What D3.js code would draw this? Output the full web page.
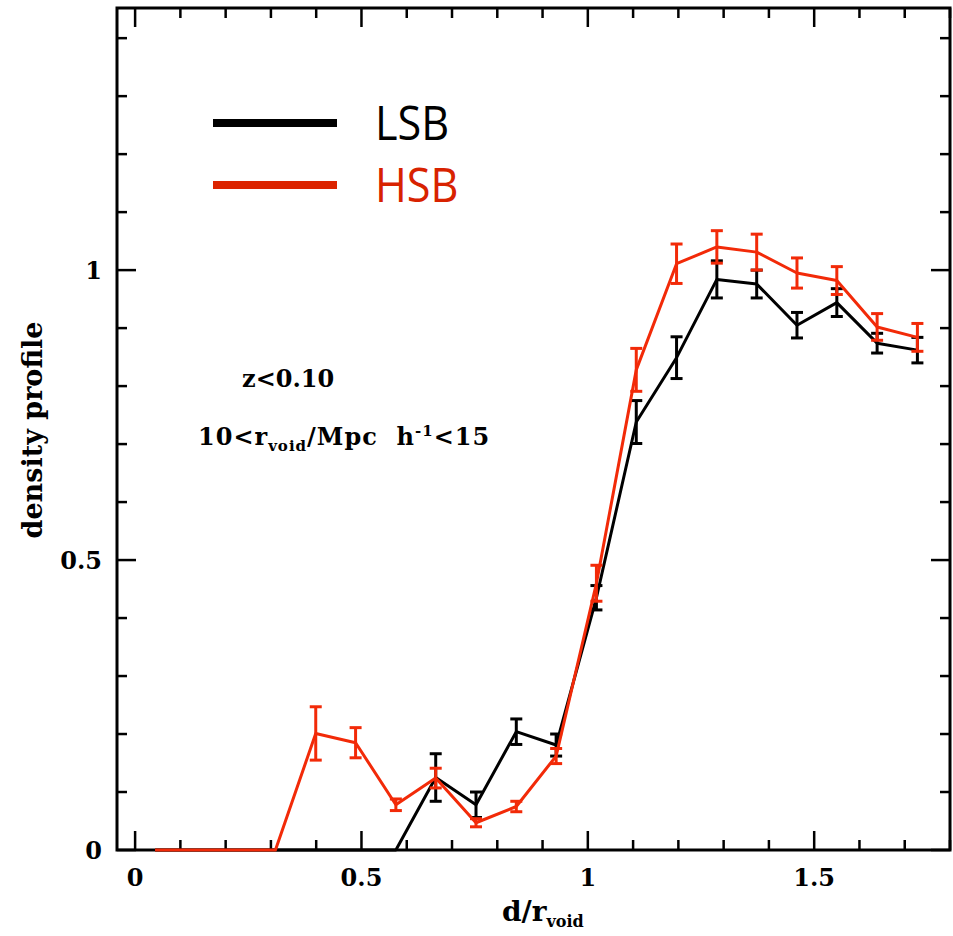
<!DOCTYPE html>
<html>
<head>
<meta charset="utf-8">
<script src="https://cdn.jsdelivr.net/npm/d3@7"></script>
<style>
  html, body { margin: 0; padding: 0; background: #fff; }
  svg text { font-family: "DejaVu Serif", serif; font-weight: bold; white-space: pre; }
</style>
</head>
<body>
<svg id="chart" width="953" height="936"></svg>
<script>
// Bin centres (d / r_void)
const binCenters = [0.044, 0.133, 0.221, 0.310, 0.399, 0.487, 0.576, 0.664, 0.753, 0.842,
                    0.930, 1.019, 1.107, 1.196, 1.285, 1.373, 1.462, 1.550, 1.639, 1.728];

// Low surface brightness galaxies
const lsbValues = [0, 0, 0, 0, 0, 0, 0, 0.125, 0.078, 0.204,
                   0.181, 0.435, 0.738, 0.849, 0.984, 0.976, 0.905, 0.944, 0.874, 0.862];
const lsbErrors = [0, 0, 0, 0, 0, 0, 0, 0.041, 0.022, 0.022,
                   0.019, 0.021, 0.037, 0.036, 0.032, 0.024, 0.022, 0.024, 0.017, 0.022];

// High surface brightness galaxies
const hsbValues = [0, 0, 0, 0, 0.201, 0.185, 0.078, 0.124, 0.047, 0.075,
                   0.162, 0.460, 0.828, 1.011, 1.040, 1.031, 0.995, 0.982, 0.902, 0.884];
const hsbErrors = [0, 0, 0, 0, 0.046, 0.026, 0.010, 0.017, 0.007, 0.009,
                   0.013, 0.031, 0.037, 0.034, 0.028, 0.031, 0.026, 0.024, 0.023, 0.024];

const xMajorTicks = [0, 0.5, 1, 1.5];
const xTickLabels = ["0", "0.5", "1", "1.5"];
const yMajorTicks = [0, 0.5, 1];
const yTickLabels = ["0", "0.5", "1"];

const seriesNames = ["LSB", "HSB"];
const seriesColors = ["#000000", "#f22a08"];
const legendLineColors = ["#000000", "#dc2400"];
const legendTextColors = ["#000000", "#d82200"];

const svg = d3.select("#chart");

const x = d3.scaleLinear().domain([-0.04, 1.8]).range([117, 950]);
const y = d3.scaleLinear().domain([0, 1.452]).range([850, 8]);

const [x0, x1] = x.range();
const [y0, y1] = y.range();

const xMinor = d3.range(0, 1.8001, 0.1).map(v => +v.toFixed(2));
const yMinor = d3.range(0, 1.4501, 0.1).map(v => +v.toFixed(2));
const isMajor = v => Math.abs(v * 2 - Math.round(v * 2)) < 1e-6;

const MAJ = 19, MIN = 10;

// Frame
svg.append("rect").attr("x", x0).attr("y", y1).attr("width", x1 - x0).attr("height", y0 - y1)
  .attr("fill", "none").attr("stroke", "#000").attr("stroke-width", 3);

// Inward ticks on all four sides
const ticks = svg.append("g").attr("stroke", "#000").attr("stroke-width", 2.5);
xMinor.forEach(v => {
  const len = isMajor(v) ? MAJ : MIN;
  ticks.append("line").attr("x1", x(v)).attr("x2", x(v)).attr("y1", y0).attr("y2", y0 - len);
  ticks.append("line").attr("x1", x(v)).attr("x2", x(v)).attr("y1", y1).attr("y2", y1 + len);
});
yMinor.forEach(v => {
  const len = isMajor(v) ? MAJ : MIN;
  ticks.append("line").attr("y1", y(v)).attr("y2", y(v)).attr("x1", x0).attr("x2", x0 + len);
  ticks.append("line").attr("y1", y(v)).attr("y2", y(v)).attr("x1", x1).attr("x2", x1 - len);
});

// Tick labels
svg.append("g").selectAll("text").data(xMajorTicks).join("text")
  .attr("x", d => x(d)).attr("y", 886)
  .attr("text-anchor", "middle").attr("font-size", 24)
  .text((d, i) => xTickLabels[i]);

svg.append("g").selectAll("text").data(yMajorTicks).join("text")
  .attr("x", 102).attr("y", d => y(d) + 9)
  .attr("text-anchor", "end").attr("font-size", 24)
  .text((d, i) => yTickLabels[i]);

// Axis titles
const xt = svg.append("text").attr("x", 502).attr("y", 921).attr("font-size", 28);
xt.append("tspan").text("d/r");
xt.append("tspan").attr("font-size", 16).attr("dy", 6).text("void");

svg.append("text")
  .attr("transform", "translate(42,430) rotate(-90)")
  .attr("text-anchor", "middle").attr("font-size", 27)
  .text("density profile");

// Series lines and error bars
const line = d3.line().x(d => x(d.x)).y(d => y(d.v));
const series = [
  { values: lsbValues, errors: lsbErrors },
  { values: hsbValues, errors: hsbErrors }
];

series.forEach((s, k) => {
  const pts = binCenters.map((c, i) => ({ x: c, v: s.values[i], e: s.errors[i] }));
  const g = svg.append("g").attr("stroke", seriesColors[k]).attr("fill", "none");
  g.append("path").attr("d", line(pts)).attr("stroke-width", 3).attr("stroke-linejoin", "round");
  const cap = 6;
  pts.filter(p => p.e > 0).forEach(p => {
    g.append("line").attr("x1", x(p.x)).attr("x2", x(p.x))
      .attr("y1", y(p.v - p.e)).attr("y2", y(p.v + p.e)).attr("stroke-width", 3);
    [p.v - p.e, p.v + p.e].forEach(t => {
      g.append("line").attr("x1", x(p.x) - cap).attr("x2", x(p.x) + cap)
        .attr("y1", y(t)).attr("y2", y(t)).attr("stroke-width", 3);
    });
  });
});

// Annotations
svg.append("text").attr("x", 242).attr("y", 387).attr("font-size", 24).text("z<0.10");
const ann = svg.append("text").attr("x", 198).attr("y", 445).attr("font-size", 24)
  .attr("letter-spacing", 1);
ann.append("tspan").text("10<r");
ann.append("tspan").attr("font-size", 15).attr("dy", 6).text("void");
ann.append("tspan").attr("dy", -6).text("/Mpc  h");
ann.append("tspan").attr("font-size", 15).attr("dy", -9).text("-1");
ann.append("tspan").attr("dy", 9).text("<15");

// Legend
const legend = svg.append("g");
seriesNames.forEach((name, k) => {
  const ly = 123 + k * 62;
  legend.append("line").attr("x1", 213).attr("x2", 337).attr("y1", ly).attr("y2", ly)
    .attr("stroke", legendLineColors[k]).attr("stroke-width", 8);
  legend.append("text")
    .attr("transform", `translate(375,${ly + 17}) scale(0.92,1)`)
    .style("font-family", "'Open Sans', sans-serif").style("font-weight", "normal")
    .attr("font-size", 47).attr("fill", legendTextColors[k]).text(name);
});
</script>
</body>
</html>
